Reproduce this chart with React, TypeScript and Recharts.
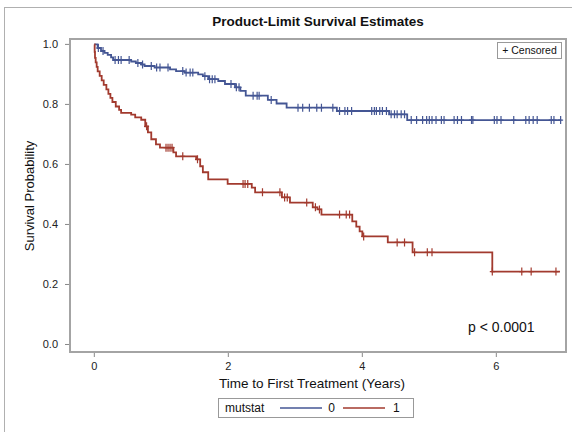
import React from 'react';
import { ComposedChart, Line, Scatter, XAxis, YAxis } from 'recharts';

// Kaplan-Meier step points [time (years), survival]
const blueSteps: [number, number][] = [
  [0, 1.0], [0.05, 0.988], [0.1, 0.978], [0.15, 0.972], [0.2, 0.965], [0.25, 0.957],
  [0.28, 0.948], [0.55, 0.943], [0.62, 0.938], [0.7, 0.933], [0.75, 0.928], [0.9, 0.923],
  [1.13, 0.917], [1.22, 0.911], [1.35, 0.906], [1.55, 0.9], [1.62, 0.894], [1.7, 0.884],
  [1.85, 0.878], [1.95, 0.868], [2.1, 0.857], [2.18, 0.845], [2.26, 0.829], [2.59, 0.815],
  [2.72, 0.803], [2.87, 0.789], [3.62, 0.778], [4.4, 0.767], [4.67, 0.748], [6.97, 0.748],
];
const redSteps: [number, number][] = [
  [0, 1.0], [0.005, 0.975], [0.01, 0.955], [0.02, 0.94], [0.035, 0.925], [0.05, 0.91],
  [0.08, 0.895], [0.11, 0.88], [0.14, 0.865], [0.18, 0.85], [0.21, 0.835], [0.24, 0.822],
  [0.27, 0.808], [0.32, 0.793], [0.37, 0.782], [0.4, 0.772], [0.55, 0.766], [0.61, 0.757],
  [0.7, 0.749], [0.76, 0.727], [0.8, 0.707], [0.85, 0.684], [0.92, 0.667], [0.98, 0.656],
  [1.18, 0.64], [1.22, 0.627], [1.52, 0.617], [1.58, 0.594], [1.62, 0.574], [1.7, 0.55],
  [1.99, 0.535], [2.35, 0.523], [2.4, 0.507], [2.8, 0.49], [2.92, 0.473], [3.26, 0.457],
  [3.33, 0.45], [3.39, 0.433], [3.85, 0.41], [3.91, 0.393], [3.96, 0.377], [4.0, 0.36],
  [4.38, 0.34], [4.75, 0.307], [5.94, 0.243], [6.95, 0.243],
];

// censoring times
const blueCensorTimes: number[] = [
  0.06, 0.13, 0.31, 0.36, 0.4, 0.52, 0.65, 0.72, 0.85, 0.93, 0.98, 1.1, 1.32, 1.37, 1.43, 1.47,
  1.65, 1.72, 1.76, 1.8, 2.04, 2.12, 2.16, 2.37, 2.43, 2.46, 2.64, 3.04, 3.11, 3.21, 3.32, 3.39,
  3.56, 3.66, 3.74, 3.78, 3.84, 4.14, 4.18, 4.21, 4.26, 4.3, 4.36, 4.43, 4.48, 4.52, 4.58, 4.63,
  4.73, 4.81, 4.9, 4.96, 5.0, 5.04, 5.1, 5.18, 5.22, 5.37, 5.42, 5.48, 5.63, 5.65, 5.97, 6.01,
  6.07, 6.26, 6.44, 6.49, 6.55, 6.61, 6.82, 6.86, 6.96,
];
const redCensorTimes: number[] = [
  0.78, 1.07, 1.1, 1.13, 1.16, 1.32, 1.54, 2.22, 2.25, 2.29, 2.51, 2.77, 2.84, 2.88, 3.17,
  3.3, 3.36, 3.66, 3.76, 3.81, 4.02, 4.52, 4.63, 4.78, 4.97, 5.04, 5.94, 6.38, 6.52, 6.89,
];

const xTicks = [0, 2, 4, 6];
const yTicks = [0, 0.2, 0.4, 0.6, 0.8, 1.0];

const BLUE = '#445694';
const RED = '#A23A2E';
const FONT = '"Liberation Sans", Arial, sans-serif';

const toData = (steps: [number, number][]) => steps.map(([t, s]) => ({ t, s }));
const survivalAt = (steps: [number, number][], t: number) => {
  let v = steps[0][1];
  for (const [st, s] of steps) if (st <= t) v = s;
  return v;
};
const blueData = toData(blueSteps);
const redData = toData(redSteps);
const blueCensor = blueCensorTimes.map((t) => ({ t, s: survivalAt(blueSteps, t) }));
const redCensor = redCensorTimes.map((t) => ({ t, s: survivalAt(redSteps, t) }));

const plusShape = (color: string) => (props: any) => {
  const { cx, cy } = props;
  if (cx == null || cy == null) return <g />;
  return (
    <path
      d={`M${cx},${cy - 4}L${cx},${cy + 4}M${cx - 2.5},${cy}L${cx + 2.5},${cy}`}
      stroke={color}
      strokeWidth={1.2}
      fill="none"
    />
  );
};

export default function App() {
  return (
    <div style={{ position: 'absolute', left: 0, top: 0, width: 572, height: 432, background: '#fff', fontFamily: FONT, overflow: 'hidden' }}>
      <div style={{ position: 'absolute', left: 4, top: 7, width: 580, height: 440, border: '1px solid #b0b0b0', boxSizing: 'border-box' }} />
      <div style={{ position: 'absolute', left: 0, top: 0 }}>
        <ComposedChart width={572} height={432} margin={{ top: 39, right: 6, left: 0, bottom: 0 }}>
          <XAxis
            dataKey="t"
            type="number"
            domain={[-0.363, 7.04]}
            ticks={xTicks}
            allowDataOverflow
            height={80}
            axisLine={false}
            tickSize={5}
            tickMargin={5}
            tickLine={{ stroke: '#888' }}
            tick={{ fill: '#222', fontSize: 11, fontFamily: FONT }}
          />
          <YAxis
            dataKey="s"
            type="number"
            domain={[-0.025, 1.018]}
            ticks={yTicks}
            allowDataOverflow
            width={70}
            axisLine={false}
            tickSize={5}
            tickMargin={7}
            tickLine={{ stroke: '#888' }}
            tickFormatter={(v: number) => v.toFixed(1)}
            tick={{ fill: '#222', fontSize: 11, fontFamily: FONT }}
          />
          <Line data={blueData} dataKey="s" type="stepAfter" stroke={BLUE} strokeWidth={1.8} dot={false} activeDot={false} isAnimationActive={false} />
          <Line data={redData} dataKey="s" type="stepAfter" stroke={RED} strokeWidth={1.8} dot={false} activeDot={false} isAnimationActive={false} />
          <Scatter data={blueCensor} dataKey="s" shape={plusShape(BLUE)} isAnimationActive={false} />
          <Scatter data={redCensor} dataKey="s" shape={plusShape(RED)} isAnimationActive={false} />
        </ComposedChart>
      </div>
      {/* plot frame */}
      <div style={{ position: 'absolute', left: 69, top: 38, width: 498, height: 315, border: '2px solid #a4a4a4', boxSizing: 'border-box' }} />
      {/* title */}
      <div style={{ position: 'absolute', left: 70, width: 496, top: 14, textAlign: 'center', fontSize: 13.5, fontWeight: 'bold', color: '#111' }}>
        Product-Limit Survival Estimates
      </div>
      {/* y label */}
      <div style={{ position: 'absolute', left: 29, top: 196, width: 0, height: 0 }}>
        <div style={{ position: 'absolute', transform: 'translate(-50%, -50%) rotate(-90deg)', whiteSpace: 'nowrap', fontSize: 13, color: '#111' }}>
          Survival Probability
        </div>
      </div>
      {/* x label */}
      <div style={{ position: 'absolute', left: 70, width: 484, top: 376, textAlign: 'center', fontSize: 13.5, color: '#111' }}>
        Time to First Treatment (Years)
      </div>
      {/* censored box */}
      <div style={{ position: 'absolute', left: 497, top: 42, width: 65, height: 17, border: '1px solid #999', boxSizing: 'border-box', fontSize: 10.5, lineHeight: '15px', textAlign: 'center', color: '#111' }}>
        + Censored
      </div>
      {/* p value */}
      <div style={{ position: 'absolute', left: 468, top: 319, fontSize: 14, color: '#111' }}>p &lt; 0.0001</div>
      {/* legend */}
      <div style={{ position: 'absolute', left: 218, top: 398, width: 196, height: 20, border: '1px solid #999', boxSizing: 'border-box', display: 'flex', alignItems: 'center', fontSize: 12, color: '#111', paddingLeft: 6 }}>
        <span>mutstat</span>
        <svg width={42} height={10} style={{ marginLeft: 16 }}><line x1={0} y1={5} x2={42} y2={5} stroke={BLUE} strokeWidth={1.5} /></svg>
        <span style={{ marginLeft: 6 }}>0</span>
        <svg width={42} height={10} style={{ marginLeft: 8 }}><line x1={0} y1={5} x2={42} y2={5} stroke={RED} strokeWidth={1.5} /></svg>
        <span style={{ marginLeft: 8 }}>1</span>
      </div>
    </div>
  );
}
